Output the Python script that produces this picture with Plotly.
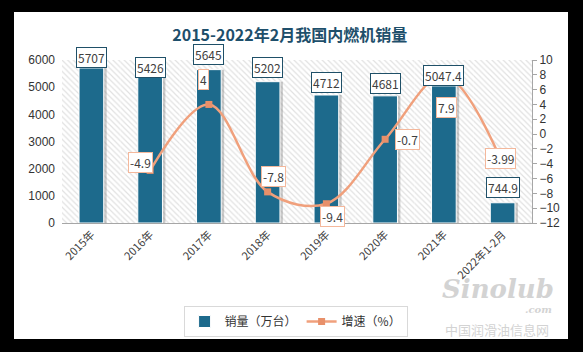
import plotly.graph_objects as go

# ---- data ----
categories = ["2015年", "2016年", "2017年", "2018年", "2019年", "2020年", "2021年", "2022年1-2月"]
sales = [5707, 5426, 5645, 5202, 4712, 4681, 5047.4, 744.9]
growth = [None, -4.9, 4, -7.8, -9.4, -0.7, 7.9, -3.99]
sales_labels = ["5707", "5426", "5645", "5202", "4712", "4681", "5047.4", "744.9"]
growth_labels = [None, "-4.9", "4", "-7.8", "-9.4", "-0.7", "7.9", "-3.99"]

# label placement (pixel shifts)
bar_label_gap = [0, -2, 5, 4, 2, 2, 0, 5]
growth_label_shift = [None, (-10, 8), (-5, 25), (6, 15), (6, -13), (22, 0), (3, -32), (-2, 5)]

BAR_COLOR = "#1d6a8c"
LINE_COLOR = "#f0a07c"
MARKER_COLOR = "#e8906a"
FONT = "Noto Sans CJK SC"
NUMFONT = "Liberation Sans"
BAR_W = 0.42

W, H = 583, 352
ML, MR, MT, MB = 62, 51, 60, 129
PW, PH = W - ML - MR, H - MT - MB


def px(x):
    return (x - ML) / PW


def py(y):
    return (H - MB - y) / PH


fig = go.Figure()

# hatched plot background (decorative) on the base subplot
fig.add_trace(go.Bar(
    x=categories, y=[1] * len(categories), width=1, xaxis="x", yaxis="y",
    marker=dict(color="white", line=dict(width=0),
                pattern=dict(shape="\\", fgcolor="#c4c4c4", bgcolor="white", size=4, solidity=0.3)),
    showlegend=False, hoverinfo="skip",
))

# bar shadow
fig.add_trace(go.Bar(
    x=categories, y=sales, xaxis="x", yaxis="y2", width=BAR_W, offset=-BAR_W / 2 + 0.05,
    marker=dict(color="rgba(110,110,110,0.35)", line=dict(width=0)),
    showlegend=False, hoverinfo="skip",
))

# bars
fig.add_trace(go.Bar(
    x=categories, y=sales, xaxis="x", yaxis="y2", width=BAR_W, name="销量（万台）",
    marker=dict(color=BAR_COLOR, line=dict(color="white", width=1)),
))

# growth line
fig.add_trace(go.Scatter(
    x=categories, y=growth, xaxis="x", yaxis="y3", name="增速（%）",
    mode="lines+markers", line=dict(color=LINE_COLOR, width=2.5, shape="spline", smoothing=1),
    marker=dict(symbol="square", size=7, color=MARKER_COLOR), connectgaps=False,
))

annotations = []
for c, v, t, g in zip(categories, sales, sales_labels, bar_label_gap):
    annotations.append(dict(
        x=c, y=v, xref="x", yref="y2", text=t, showarrow=False,
        yanchor="bottom", yshift=g, font=dict(size=12, color="#404040", family=FONT),
        bgcolor="white", bordercolor="#1f5068", borderwidth=1, borderpad=1,
    ))
for c, v, t, s in zip(categories, growth, growth_labels, growth_label_shift):
    if v is None:
        continue
    annotations.append(dict(
        x=c, y=v, xref="x", yref="y3", text=t, showarrow=False,
        xshift=s[0], yshift=s[1], font=dict(size=12, color="#404040", family=FONT),
        bgcolor="white", bordercolor="#f4b89c", borderwidth=1, borderpad=1,
    ))

# watermark
wm = [
    ("<b><i>Sinolub</i></b>", 498, 289, 26, "DejaVu Serif"),
    ("<b><i>.com</i></b>", 538, 309, 10, "DejaVu Serif"),
    ("中国润滑油信息网", 497, 329, 13, FONT),
]
for txt, x0, y0, sz, fam in wm:
    annotations.append(dict(x=px(x0), y=py(y0), xref="paper", yref="paper",
                            xanchor="center", yanchor="middle",
                            text=txt, showarrow=False, font=dict(size=sz, color="#d3d3d3", family=fam)))

fig.update_layout(
    width=W, height=H,
    margin=dict(l=ML, r=MR, t=MT, b=MB),
    paper_bgcolor="black", plot_bgcolor="white",
    barmode="overlay",
    font=dict(family=FONT, color="#404040", size=12),
    title=dict(text="<b>2015-2022年2月我国内燃机销量</b>", x=0.497, xanchor="center",
               y=1 - 35 / H, yanchor="middle",
               font=dict(size=16, color="#1e4f6b", family=FONT)),
    shapes=[dict(type="rect", xref="paper", yref="paper", layer="below",
                 x0=px(14), x1=px(568), y0=py(339), y1=py(12),
                 fillcolor="white", line=dict(width=0))],
    xaxis=dict(type="category", tickangle=-45, showline=True, linecolor="#a6a6a6", linewidth=1,
               ticks="", showgrid=False, tickfont=dict(size=11, color="#404040", family=FONT),
               range=[-0.5, 7.5]),
    yaxis=dict(range=[0, 1], visible=False, fixedrange=True),
    yaxis2=dict(overlaying="y", side="left", range=[0, 6000], dtick=1000, showgrid=False,
                showline=False, zeroline=False, tickfont=dict(size=12, color="#333333", family=NUMFONT),
                ticklabelstandoff=6),
    yaxis3=dict(overlaying="y", side="right", range=[-12, 10], dtick=2, showgrid=False,
                showline=True, linecolor="#a6a6a6", ticks="outside", ticklen=4, tickcolor="#a6a6a6",
                zeroline=False, tickfont=dict(size=12, color="#333333", family=NUMFONT)),
    legend=dict(orientation="h", x=0.497, xanchor="center", y=1 - 306 / H, yanchor="top",
                yref="container", bordercolor="#d9d9d9", borderwidth=1, bgcolor="white",
                font=dict(size=12, color="#333333", family=FONT), traceorder="normal",
                itemwidth=30),
    annotations=annotations,
)

fig.write_html("out.html")
